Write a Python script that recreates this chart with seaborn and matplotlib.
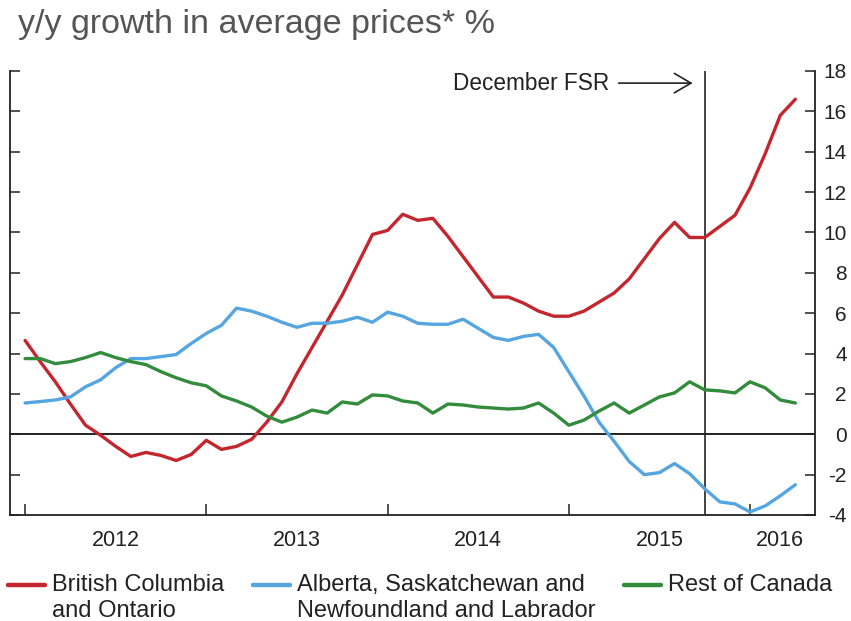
import numpy as np
import pandas as pd
import matplotlib
matplotlib.use("Agg")
import matplotlib.pyplot as plt
import seaborn as sns
from matplotlib import font_manager as fm

# Monthly index: 0 = January 2012 ... 51 = April 2016
months = list(range(52))

bc_on = [4.65, 3.6, 2.6, 1.5, 0.45, -0.05, -0.6, -1.1, -0.9, -1.05, -1.3, -1.0,
         -0.3, -0.75, -0.6, -0.25, 0.6, 1.6, 3.0, 4.3, 5.6, 6.9, 8.4, 9.9,
         10.1, 10.9, 10.6, 10.7, 9.8, 8.8, 7.8, 6.8, 6.8, 6.5, 6.1, 5.85,
         5.85, 6.1, 6.55, 7.0, 7.7, 8.7, 9.7, 10.5, 9.75, 9.75, 10.3, 10.85,
         12.2, 13.9, 15.8, 16.6]

ab_sk_nl = [1.55, 1.62, 1.7, 1.85, 2.35, 2.7, 3.3, 3.75, 3.75, 3.85, 3.95, 4.5,
            5.0, 5.4, 6.25, 6.1, 5.85, 5.55, 5.3, 5.5, 5.5, 5.6, 5.8, 5.55,
            6.05, 5.85, 5.5, 5.45, 5.45, 5.7, 5.25, 4.8, 4.65, 4.85, 4.95, 4.3,
            3.1, 1.9, 0.6, -0.35, -1.35, -2.0, -1.9, -1.45, -1.95, -2.7, -3.35, -3.45,
            -3.85, -3.55, -3.05, -2.5]

rest_of_canada = [3.75, 3.75, 3.5, 3.6, 3.8, 4.05, 3.8, 3.6, 3.45, 3.1, 2.8, 2.55,
                  2.4, 1.9, 1.65, 1.35, 0.9, 0.6, 0.85, 1.2, 1.05, 1.6, 1.5, 1.95,
                  1.9, 1.65, 1.55, 1.05, 1.5, 1.45, 1.35, 1.3, 1.25, 1.3, 1.55, 1.05,
                  0.45, 0.7, 1.15, 1.55, 1.05, 1.45, 1.85, 2.05, 2.6, 2.2, 2.15, 2.05,
                  2.6, 2.3, 1.7, 1.55]

series_names = ["British Columbia\nand Ontario",
                "Alberta, Saskatchewan and\nNewfoundland and Labrador",
                "Rest of Canada\n "]
series_colors = ["#C4262E", "#55A5E1", "#338C3C"]

year_starts = [0, 12, 24, 36, 48]
year_label_pos = [6, 18, 30, 42, 50]
year_labels = ["2012", "2013", "2014", "2015", "2016"]
y_ticks = list(range(-4, 19, 2))
fsr_month = 45

sns.set_style("white")
plt.rcParams["font.family"] = ["Liberation Sans", "DejaVu Sans"]
plt.rcParams["axes.unicode_minus"] = False

legend_font = fm.FontProperties(family=["Liberation Sans", "DejaVu Sans"], size=17)

fig = plt.figure(figsize=(8.51, 6.21), dpi=100)
ax = fig.add_axes([10 / 851, 106 / 621, 805 / 851, 444 / 621])

df = pd.DataFrame({
    "month": months * 3,
    "value": bc_on + ab_sk_nl + rest_of_canada,
    "series": np.repeat(series_names, len(months)),
})

ax.axhline(0, color="#222222", lw=1.4, zorder=1)
ax.axvline(fsr_month, color="#222222", lw=1.2, zorder=1)

sns.lineplot(data=df, x="month", y="value", hue="series", hue_order=series_names,
             palette=series_colors, linewidth=2.4, ax=ax, zorder=3)

ax.set_xlim(-1, 52.3)
ax.set_ylim(-4, 18)
ax.set_xlabel("")
ax.set_ylabel("")

# Year boundaries as inward tick marks, year names centred between them
ax.set_xticks(year_starts)
ax.set_xticklabels([])
ax.set_xticks(year_label_pos, minor=True)
ax.set_xticklabels(year_labels, minor=True, fontsize=15.5, color="#222222")
ax.tick_params(axis="x", which="major", direction="in", length=8, width=1.1,
               color="#222222", bottom=True)
ax.tick_params(axis="x", which="minor", length=0, pad=11, bottom=True)

ax.set_yticks(y_ticks)
ax.set_yticklabels([str(v) for v in y_ticks])
ax.tick_params(axis="y", which="major", direction="in", length=7, width=1.1,
               color="#222222", left=True, right=True, labelleft=False,
               labelright=True, pad=23, labelsize=15, labelcolor="#222222")
for lbl in ax.get_yticklabels():
    lbl.set_horizontalalignment("right")

for side in ["left", "right", "bottom"]:
    ax.spines[side].set_visible(True)
    ax.spines[side].set_color("#222222")
    ax.spines[side].set_linewidth(1.3)
ax.spines["top"].set_visible(False)

# Annotation for the December Financial System Review
ax.text(38.7, 17.05, "December FSR", ha="right", va="baseline",
        fontsize=16.3, color="#222222")
ax.annotate("", xy=(44.2, 17.4), xytext=(39.3, 17.4),
            arrowprops=dict(arrowstyle="->,head_length=0.6,head_width=0.35",
                            lw=1.2, color="#222222", mutation_scale=20,
                            shrinkA=0, shrinkB=0))

sns.move_legend(ax, "upper left", bbox_to_anchor=(-0.0025, -0.133), ncol=3,
                frameon=False, title=None, prop=legend_font, handlelength=1.57,
                handletextpad=0.3, columnspacing=1.2, borderpad=0,
                borderaxespad=0)
leg = ax.get_legend()
for txt in leg.get_texts():
    txt.set_linespacing(1.22)
    txt.set_color("#222222")
# keep each legend swatch level with the first line of its label
for h in leg.legend_handles:
    h.set_linewidth(3.2)
    h.set_ydata(np.asarray(h.get_ydata()) + 9.8)

fig.text(18 / 851, 1 - 33 / 621, "y/y growth in average prices* %",
         fontsize=24.5, color="#555555", ha="left", va="baseline")

fig.savefig("out.png", dpi=100, facecolor="white")
